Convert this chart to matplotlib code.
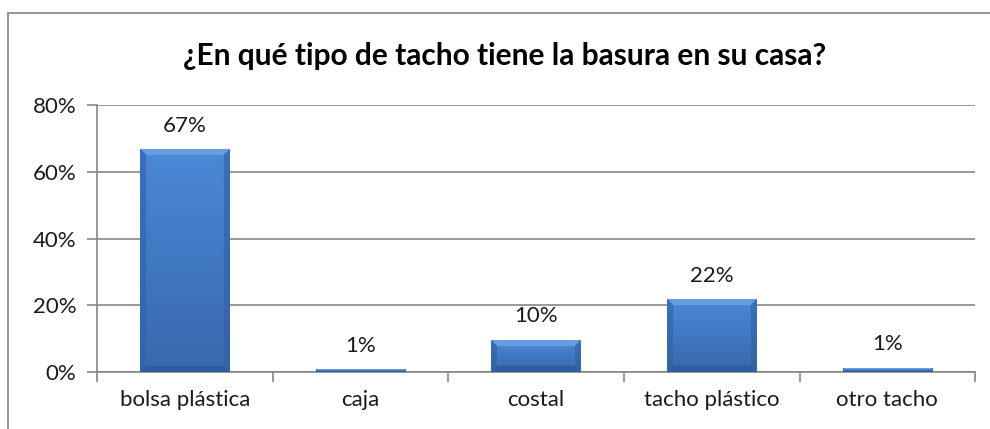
import numpy as np
import matplotlib.pyplot as plt
from matplotlib.patches import Rectangle

categories = ["bolsa plástica", "caja", "costal", "tacho plástico", "otro tacho"]
values = [0.667, 0.006, 0.095, 0.217, 0.011]
labels = ["67%", "1%", "10%", "22%", "1%"]
yticks = [0, 0.2, 0.4, 0.6, 0.8]
ytick_labels = ["0%", "20%", "40%", "60%", "80%"]

plt.rcParams['font.family'] = ['Lato', 'DejaVu Sans']

fig = plt.figure(figsize=(9.9, 4.29), dpi=100)
ax = fig.add_axes([0.098, 0.133, 0.887, 0.622])
ax.set_xlim(-0.5, len(categories) - 0.5)
ax.set_ylim(0, 0.8)

x = np.arange(len(categories))
bars = ax.bar(x, values, width=0.51, color='#3f77c0', zorder=3)


def hexrgb(c):
    return np.array([int(c[i:i + 2], 16) for i in (1, 3, 5)]) / 255.0


def bevel_img(wpx, hpx, bw=6):
    # excel 2007 style bevel, built in pixels
    wpx, hpx = max(int(wpx), 2), max(int(hpx), 2)
    t = np.linspace(0, 1, hpx)[:, None]
    top, bot = hexrgb('#4b89d6'), hexrgb('#3769ad')
    img = (top * (1 - t) + bot * t)[:, None, :].repeat(wpx, axis=1)
    b = min(bw, hpx // 2, wpx // 2)
    jj, ii = np.meshgrid(np.arange(wpx), np.arange(hpx))
    dl, dr, dt, db = jj, wpx - 1 - jj, ii, hpx - 1 - ii
    dmin = np.minimum(np.minimum(dl, dr), np.minimum(dt, db))
    edge = dmin < b
    which = np.argmin(np.stack([dl, dr, dt, db]), axis=0)
    cols = [hexrgb('#30609f'), hexrgb('#30609f'), hexrgb('#7cabe6'), hexrgb('#2a548e')]
    for k, c in enumerate(cols):
        m = edge & (which == k)
        img[m] = img[m] * 0.4 + c * 0.6
    return img


px_per_x = 0.887 * 990 / 5
px_per_y = 0.622 * 429 / 0.8
for b in bars:
    x0, y0 = b.get_x(), b.get_y()
    w, h = b.get_width(), b.get_height()
    img = bevel_img(w * px_per_x, h * px_per_y)
    ax.imshow(img, extent=[x0, x0 + w, y0, y0 + h], aspect='auto',
              zorder=3.5, origin='upper', interpolation='bilinear')

for xi, v, lab in zip(x, values, labels):
    ax.annotate(lab, (xi, v), xytext=(0, 10), textcoords='offset points',
                ha='center', va='bottom', fontsize=16, color='#1a1a1a')

ax.set_xlim(-0.5, len(categories) - 0.5)
ax.set_ylim(0, 0.8)
ax.set_yticks(yticks)
ax.set_yticklabels(ytick_labels, fontsize=16, color='#1a1a1a')
ax.set_xticks(x)
ax.set_xticklabels(categories, fontsize=16, color='#1a1a1a')
ax.set_xticks(np.arange(len(categories) + 1) - 0.5, minor=True)
ax.tick_params(axis='x', which='major', length=0, pad=13)
ax.tick_params(axis='x', which='minor', length=7, color='#868686', width=1.2)
ax.tick_params(axis='y', length=7, color='#868686', width=1.2, pad=8)
ax.grid(axis='y', color='#868686', lw=1.2, zorder=0)
for s in ['top', 'right']:
    ax.spines[s].set_visible(False)
for s in ['left', 'bottom']:
    ax.spines[s].set_color('#868686')
    ax.spines[s].set_linewidth(1.2)

fig.text(0.51, 0.87, "¿En qué tipo de tacho tiene la basura en su casa?",
         ha='center', va='center', fontsize=21.5, fontweight='bold', color='#000000')

fig.patches.append(Rectangle((8 / 990, -0.1), 1.2, 1 - 13 / 429 + 0.1,
                             transform=fig.transFigure, fill=False,
                             ec='#8c8c8c', lw=1.3))

fig.savefig('out.png', dpi=100)
